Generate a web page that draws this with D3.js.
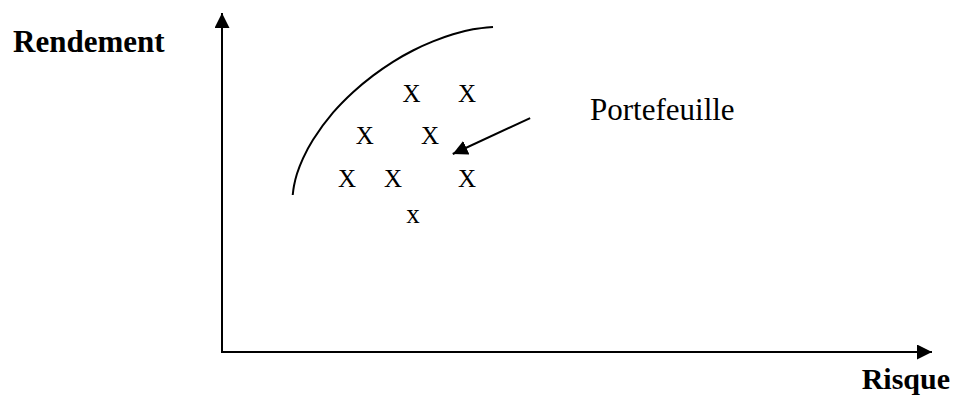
<!DOCTYPE html>
<html>
<head>
<meta charset="utf-8">
<script src="https://cdn.jsdelivr.net/npm/d3@7"></script>
<style>
  body { margin: 0; background: #fff; }
  text { font-family: "Liberation Serif", "Times New Roman", serif; fill: #000; }
</style>
</head>
<body>
<svg id="chart"></svg>
<script>
// efficient frontier (risk, return)
var frontierRisk   = [9.96, 10.14, 10.56, 11.41, 12.82, 15.63, 18.45, 21.27, 24.08, 26.90, 29.72, 32.54, 35.35, 38.17];
var frontierReturn = [46.31, 49.03, 52.57, 57.14, 62.63, 70.59, 76.64, 81.53, 85.60, 88.94, 91.62, 93.72, 95.19, 95.87];

// individual portfolios
var portRisk   = [26.7, 34.5, 20.1, 29.3, 17.6, 24.1, 34.5, 26.9];
var portReturn = [76.3, 76.3, 63.7, 63.7, 51.2, 51.2, 51.2, 39.9];
var portMark   = ['X', 'X', 'X', 'X', 'X', 'X', 'X', 'x'];

// annotation arrow: from label towards the cloud
var arrowRisk   = [43.4, 32.5];
var arrowReturn = [69.0, 58.4];
var arrowLabel  = 'Portefeuille';

var xLabel = 'Risque';
var yLabel = 'Rendement';

var width = 953, height = 396;
var origin = {x: 222, y: 352};

var svg = d3.select('#chart')
    .attr('width', width)
    .attr('height', height);

var x = d3.scaleLinear().domain([0, 100]).range([origin.x, 932]);
var y = d3.scaleLinear().domain([0, 100]).range([origin.y, 13]);

var defs = svg.append('defs');
defs.append('marker')
    .attr('id', 'head')
    .attr('viewBox', '0 0 10 10')
    .attr('refX', 10)
    .attr('refY', 5)
    .attr('markerUnits', 'userSpaceOnUse')
    .attr('markerWidth', 15)
    .attr('markerHeight', 15)
    .attr('orient', 'auto')
    .append('path')
    .attr('d', 'M0,0 L10,5 L0,10 Z')
    .attr('fill', '#000');

// axes
svg.append('line')
    .attr('x1', x(0)).attr('y1', y(0))
    .attr('x2', x(0)).attr('y2', y(100))
    .attr('stroke', '#000')
    .attr('stroke-width', 2)
    .attr('marker-end', 'url(#head)');

svg.append('line')
    .attr('x1', x(0) - 1).attr('y1', y(0))
    .attr('x2', x(100)).attr('y2', y(0))
    .attr('stroke', '#000')
    .attr('stroke-width', 2)
    .attr('marker-end', 'url(#head)');

svg.append('text')
    .text(yLabel)
    .attr('x', 13)
    .attr('y', 52)
    .style('font-size', '31px')
    .style('font-weight', 'bold');

svg.append('text')
    .text(xLabel)
    .attr('x', 950)
    .attr('y', 389)
    .attr('text-anchor', 'end')
    .style('font-size', '30px')
    .style('font-weight', 'bold');

// frontier
var frontier = frontierRisk.map((r, i) => ({risk: r, ret: frontierReturn[i]}));
var line = d3.line()
    .x(d => x(d.risk))
    .y(d => y(d.ret))
    .curve(d3.curveCatmullRom);

svg.append('path')
    .datum(frontier)
    .attr('d', line)
    .attr('fill', 'none')
    .attr('stroke', '#000')
    .attr('stroke-width', 2);

// portfolios
svg.selectAll('text.port')
    .data(portRisk.map((r, i) => ({risk: r, ret: portReturn[i], mark: portMark[i]})))
    .join('text')
    .attr('class', 'port')
    .text(d => d.mark)
    .attr('x', d => x(d.risk))
    .attr('y', d => y(d.ret))
    .attr('text-anchor', 'middle')
    .attr('dy', d => d.mark === 'X' ? '0.33em' : '0.22em')
    .style('font-size', d => d.mark === 'X' ? '25px' : '27px');

// annotation
svg.append('line')
    .attr('x1', x(arrowRisk[0])).attr('y1', y(arrowReturn[0]))
    .attr('x2', x(arrowRisk[1])).attr('y2', y(arrowReturn[1]))
    .attr('stroke', '#000')
    .attr('stroke-width', 2)
    .attr('marker-end', 'url(#head)');

svg.append('text')
    .text(arrowLabel)
    .attr('x', 590)
    .attr('y', 120)
    .style('font-size', '31px');
</script>
</body>
</html>
